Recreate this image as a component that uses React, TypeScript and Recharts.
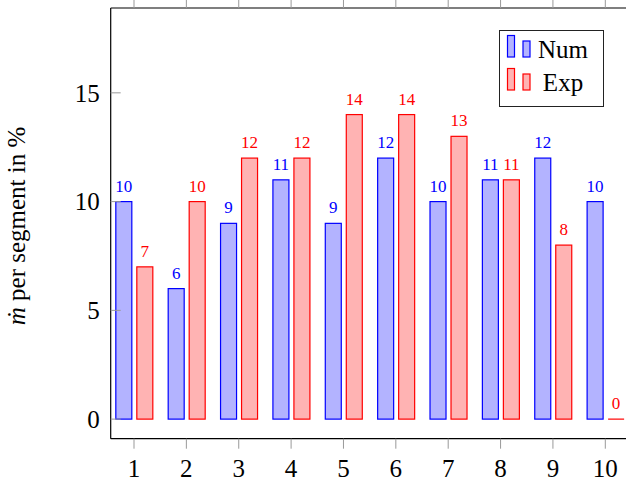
import { BarChart, Bar, XAxis, YAxis, LabelList, Legend } from "recharts";

const segments = [1, 2, 3, 4, 5, 6, 7, 8, 9, 10];
const numValues = [10, 6, 9, 11, 9, 12, 10, 11, 12, 10];
const expValues = [7, 10, 12, 12, 14, 14, 13, 11, 8, 0];
const yTicks = [0, 5, 10, 15];

const seriesNames = ["Num", "Exp"];
const strokes = ["#0000ff", "#ff0000"];
const fills = ["#b3b3ff", "#ffb3b3"];

const data = segments.map((s, i) => ({ seg: s, Num: numValues[i], Exp: expValues[i] }));

const FONT = "'Liberation Serif', 'Times New Roman', Tinos, serif";
const tickStyle = { fontFamily: FONT, fontSize: 25, fill: "#000" };

// bars with zero height still get a flat line, like pgfplots does
const BarShape = (props: any) => {
  const { x, y, width, height, fill, stroke } = props;
  if (!height) {
    return <line x1={x} x2={x + width} y1={y} y2={y} stroke={stroke} strokeWidth={1.2} />;
  }
  return <rect x={x} y={y} width={width} height={height} fill={fill} stroke={stroke} strokeWidth={1.2} />;
};

const NoLabel = () => <g />;

const LegendBox = () => (
  <svg width={106} height={78} style={{ display: "block" }}>
    <rect x={0.5} y={0.5} width={104} height={76} fill="#fff" stroke="#222" strokeWidth={1} />
    {seriesNames.map((name, i) => {
      const top = 5.5 + i * 33;
      return (
        <g key={name}>
          <rect x={8.5} y={top} width={7} height={21.5} fill={fills[i]} stroke={strokes[i]} strokeWidth={1.2} />
          <rect x={24} y={top + 5.5} width={7} height={16} fill={fills[i]} stroke={strokes[i]} strokeWidth={1.2} />
          <text x={64} y={top + 22} textAnchor="middle" fontFamily={FONT} fontSize={25} fill="#000">
            {name}
          </text>
        </g>
      );
    })}
  </svg>
);

const YLabel = () => (
  <text transform="translate(25, 226) rotate(-90)" textAnchor="middle" fontFamily={FONT} fontSize={25} fill="#000">
    <tspan fontStyle="italic">ṁ</tspan> per segment in %
  </text>
);

export default function App() {
  return (
    <div
      style={{
        position: "fixed", left: 0, top: 0, width: 626, height: 485,
        overflow: "hidden", background: "#fff", fontFamily: FONT,
      }}
    >
      <BarChart
        width={660}
        height={485}
        data={data}
        margin={{ top: 7, right: 30.4, left: 0, bottom: 0 }}
        barSize={16}
        barGap={5}
      >
        <XAxis
          dataKey="seg"
          type="number"
          domain={[0.555, 10.445]}
          ticks={segments}
          height={46.3}
          axisLine={{ stroke: "#000", strokeWidth: 1.2 }}
          tickLine={{ stroke: "#999" }}
          tickSize={10}
          tickMargin={11}
          tick={tickStyle}
        />
        {/* mirrored frame: top and right axes, ticks only */}
        <XAxis
          xAxisId="top"
          orientation="top"
          dataKey="seg"
          type="number"
          domain={[0.555, 10.445]}
          ticks={segments}
          height={1}
          axisLine={{ stroke: "#000", strokeWidth: 1.2 }}
          tickLine={{ stroke: "#999" }}
          tickSize={10}
          tick={NoLabel}
        />
        <YAxis
          type="number"
          domain={[-0.9, 18.9]}
          ticks={yTicks}
          width={110.7}
          axisLine={{ stroke: "#000", strokeWidth: 1.2 }}
          tickLine={{ stroke: "#999" }}
          tickSize={-10}
          tickMargin={21}
          tick={tickStyle}
          label={{ content: () => <YLabel /> }}
        />
        <YAxis
          yAxisId="right"
          orientation="right"
          type="number"
          domain={[-0.9, 18.9]}
          ticks={yTicks}
          width={1}
          axisLine={{ stroke: "#000", strokeWidth: 1.2 }}
          tickLine={{ stroke: "#999" }}
          tickSize={-11}
          tick={NoLabel}
        />
        <Legend
          layout="vertical"
          align="center"
          verticalAlign="middle"
          content={() => <LegendBox />}
          wrapperStyle={{ left: 499, top: 30, width: 106, height: 78 }}
        />
        {seriesNames.map((name, i) => (
          <Bar
            key={name}
            dataKey={name}
            fill={fills[i]}
            stroke={strokes[i]}
            shape={BarShape}
            isAnimationActive={false}
          >
            <LabelList
              dataKey={name}
              position="top"
              offset={10}
              fill={strokes[i]}
              fontFamily={FONT}
              fontSize={17}
            />
          </Bar>
        ))}
      </BarChart>
    </div>
  );
}
